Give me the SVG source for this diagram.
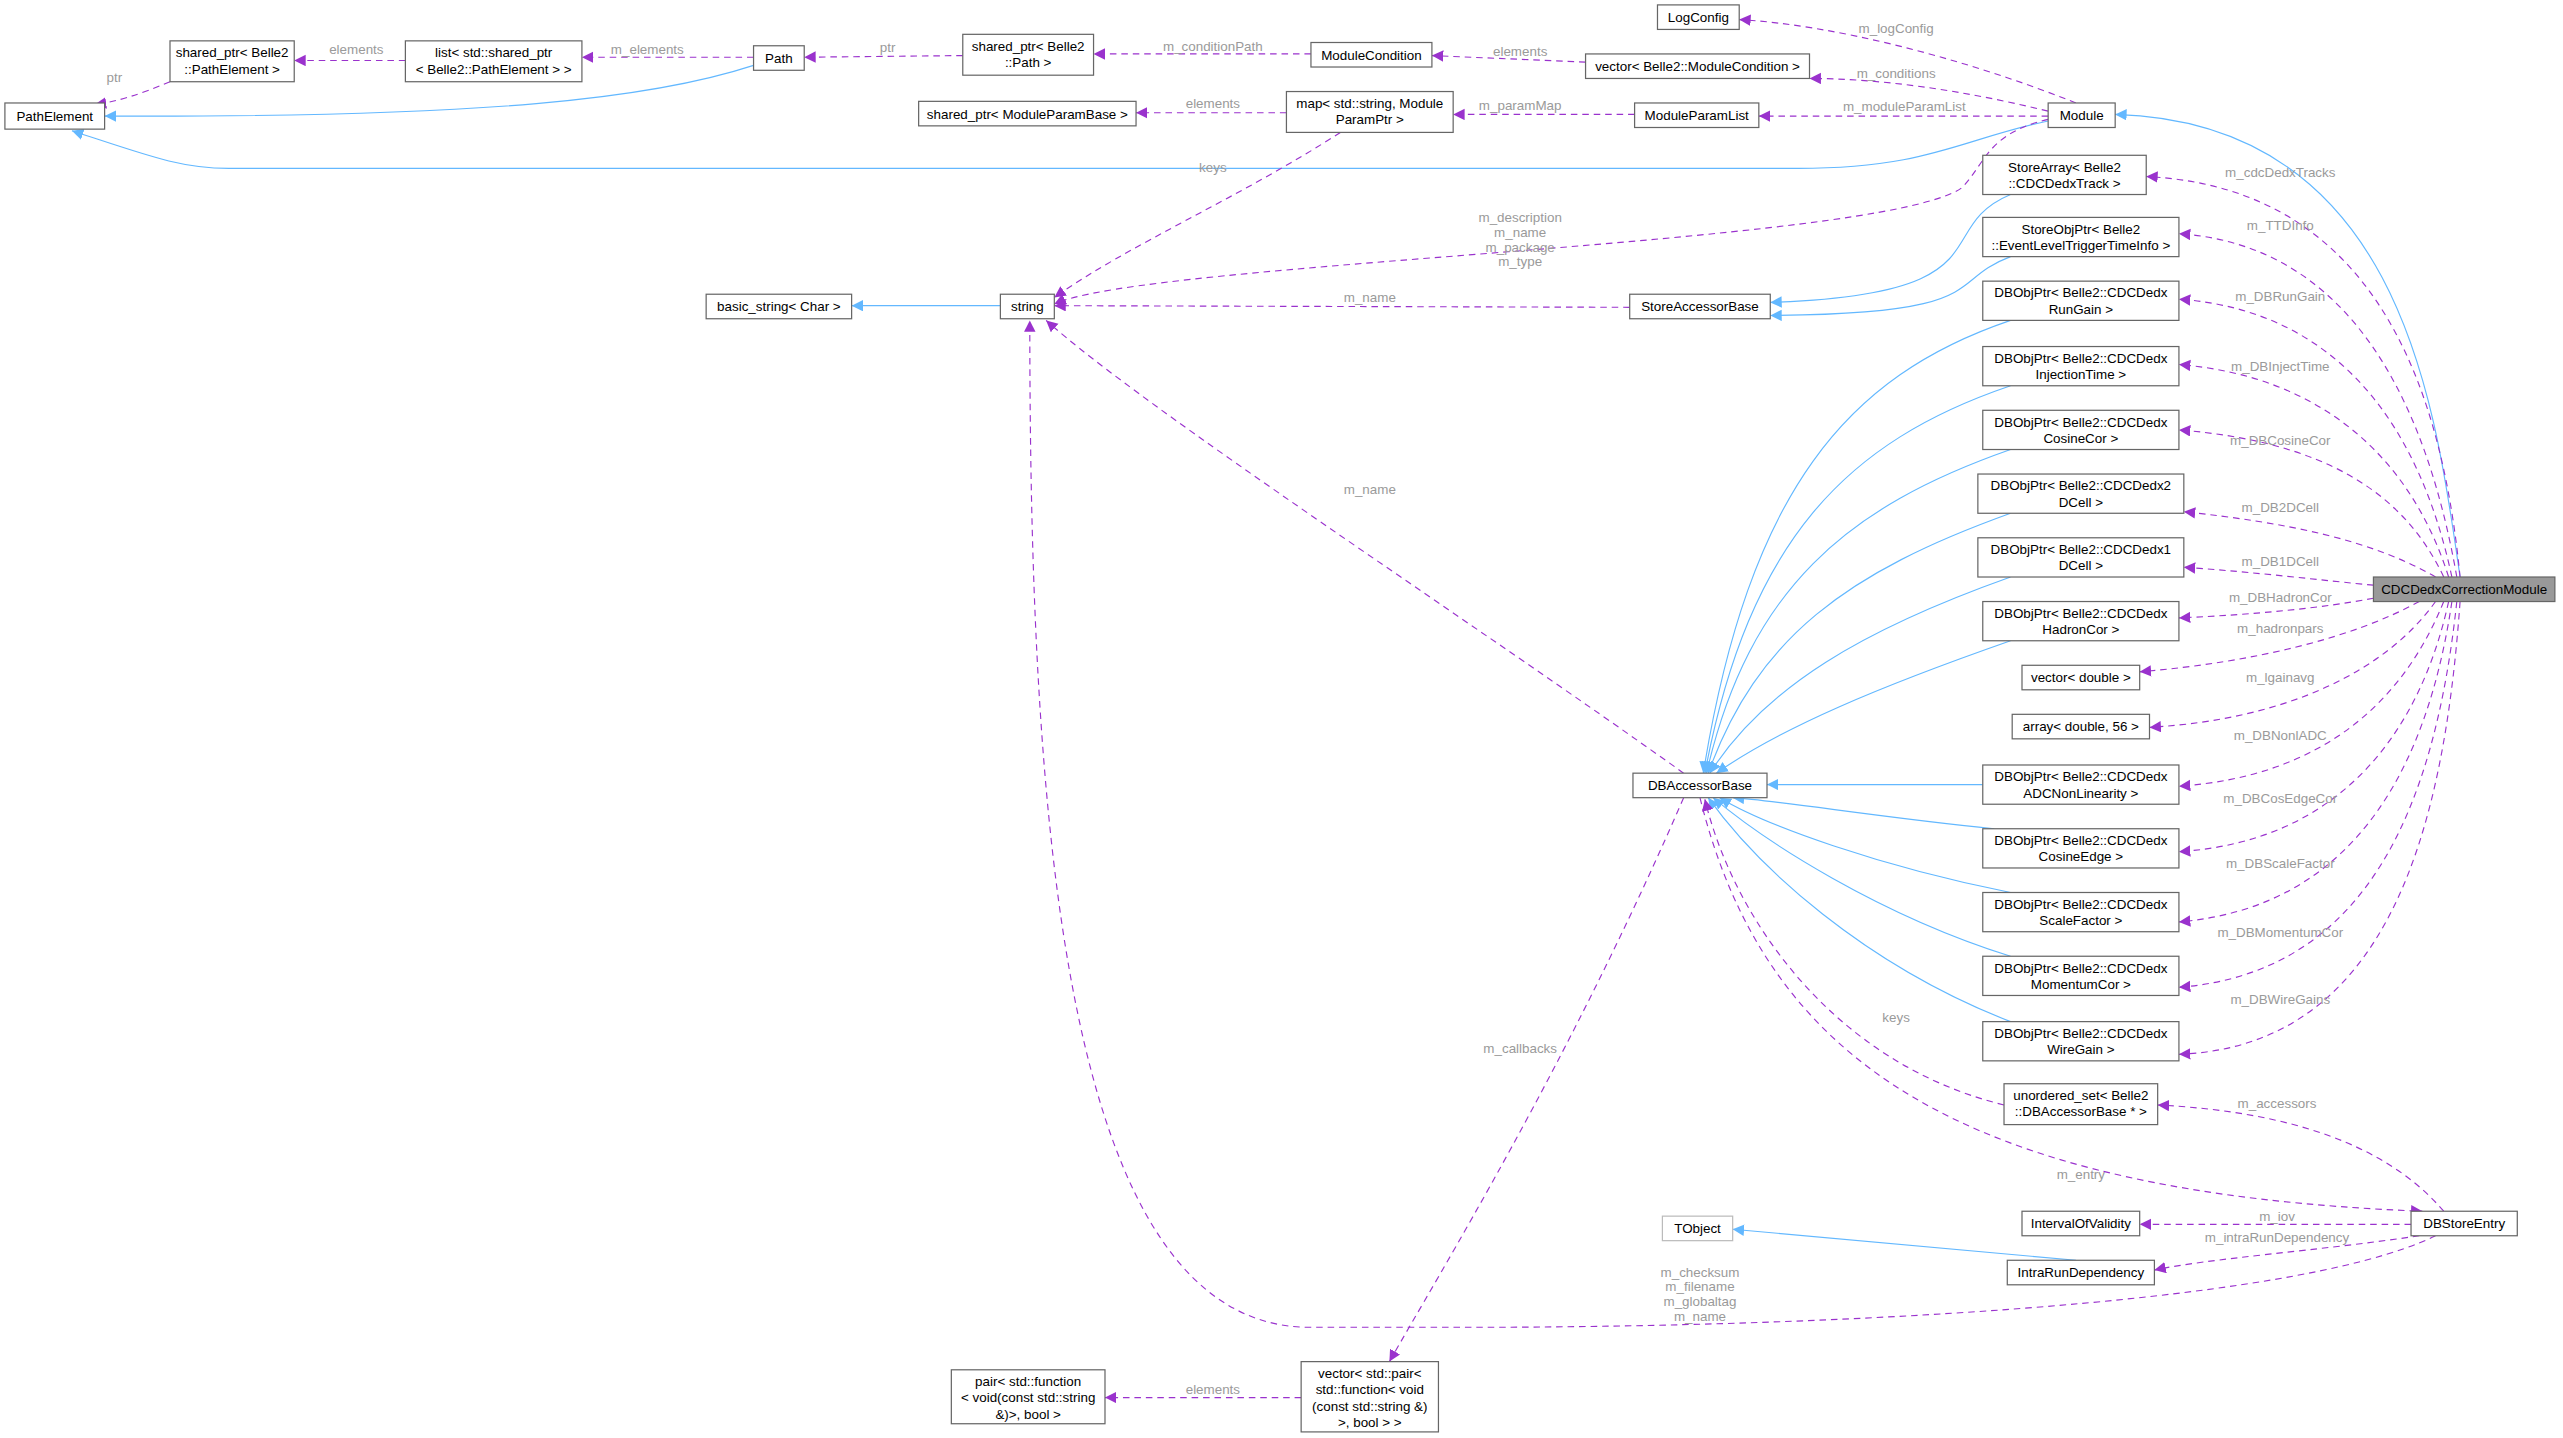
<svg xmlns="http://www.w3.org/2000/svg" width="2563" height="1438" viewBox="0 0 2563 1438">
<style>
.n rect{fill:#fff;stroke:#666;stroke-width:0.75}
.n text,.l{font-family:"Liberation Sans",Arial,sans-serif;font-size:8.2px;text-anchor:middle}
.n text{fill:#000}
.l{fill:#9a9a9a}
.u{fill:none;stroke:#9a32cd;stroke-width:0.7;stroke-dasharray:4,3;marker-end:url(#pa)}
.i{fill:none;stroke:#63b8ff;stroke-width:0.7;marker-end:url(#ba)}
</style>
<defs>
<marker id="pa" markerUnits="userSpaceOnUse" markerWidth="8" markerHeight="8" refX="7" refY="3.5" orient="auto"><path d="M0,0 L7,3.5 L0,7z" fill="#9a32cd"/></marker>
<marker id="ba" markerUnits="userSpaceOnUse" markerWidth="8" markerHeight="8" refX="7" refY="3.5" orient="auto"><path d="M0,0 L7,3.5 L0,7z" fill="#63b8ff"/></marker>
</defs>
<rect width="2563" height="1438" fill="#fff"/>
<g transform="scale(1.6346)">
<g id="edges">
<path class="i" d="M461,40 C400,60 300,72 64,71"/>
<path class="i" d="M1253,74 C1200,85 1180,103 1100,103 L140,103 C110,103 90,95 44,80"/>
<path class="i" d="M1505,353 C1490,250 1470,75 1294,70"/>
<path class="i" d="M1230,119 C1180,140 1230,180 1083,185"/>
<path class="i" d="M1230,157 C1190,172 1220,192 1083,193"/>
<path class="i" d="M612,187 L521,187"/>
<path class="i" d="M1230,196 C1130,230 1070,300 1042,473"/>
<path class="i" d="M1230,236 C1130,270 1070,330 1043,473"/>
<path class="i" d="M1230,275 C1130,310 1070,360 1044,473"/>
<path class="i" d="M1230,314 C1130,350 1075,390 1045,473"/>
<path class="i" d="M1230,353 C1140,385 1080,420 1046,473"/>
<path class="i" d="M1230,392 C1150,420 1090,445 1050,473"/>
<path class="i" d="M1213,480 L1081,480"/>
<path class="i" d="M1220,507 C1150,500 1090,490 1060,488"/>
<path class="i" d="M1230,546 C1150,530 1080,505 1052,488"/>
<path class="i" d="M1230,585 C1150,560 1080,515 1048,488"/>
<path class="i" d="M1230,625 C1140,590 1075,530 1045,488"/>
<path class="i" d="M1270,771 L1060,752"/>
<path class="u" d="M104,50 C85,58 72,62 58,64"/>
<path class="u" d="M248,37 L180,37"/>
<path class="u" d="M461,35 L356,35"/>
<path class="u" d="M589,34 L492,35"/>
<path class="u" d="M802,33 L669,33"/>
<path class="u" d="M970,38 L876,34"/>
<path class="u" d="M1253,68 C1200,55 1150,48 1107,48"/>
<path class="u" d="M1270,63 C1200,35 1120,15 1064,12"/>
<path class="u" d="M1253,71 L1076,71"/>
<path class="u" d="M1000,70 L889,70"/>
<path class="u" d="M787,69 L695,69"/>
<path class="u" d="M820,81 C760,120 690,150 645,182"/>
<path class="u" d="M1253,73 C1215,82 1215,100 1200,115 C1150,150 700,160 645,186"/>
<path class="u" d="M997,188 L645,187"/>
<path class="u" d="M1030,473 C900,380 700,250 640,196"/>
<path class="u" d="M1226,676 C1120,650 1060,560 1043,489"/>
<path class="u" d="M1495,741 C1460,700 1400,680 1320,676"/>
<path class="u" d="M1040,488 C1080,650 1200,730 1482,741"/>
<path class="u" d="M1475,749 L1309,749"/>
<path class="u" d="M1480,756 C1420,765 1350,770 1318,777"/>
<path class="u" d="M1490,756 C1400,800 1100,812 900,812 L800,812 C650,810 630,500 630,196"/>
<path class="u" d="M1030,488 C960,650 880,780 850,833"/>
<path class="u" d="M796,855 L676,855"/>
<path class="u" d="M1505,353 C1495,250 1460,115 1313,108"/>
<path class="u" d="M1503,353 C1485,250 1440,150 1333,143"/>
<path class="u" d="M1500,353 C1480,260 1430,190 1333,183"/>
<path class="u" d="M1498,353 C1475,280 1420,230 1333,223"/>
<path class="u" d="M1495,353 C1470,300 1420,270 1333,263"/>
<path class="u" d="M1490,353 C1450,330 1400,320 1336,313"/>
<path class="u" d="M1452,358 C1420,355 1380,350 1336,347"/>
<path class="u" d="M1452,366 C1420,372 1380,376 1333,378"/>
<path class="u" d="M1480,368 C1440,390 1380,405 1309,411"/>
<path class="u" d="M1490,368 C1460,410 1400,440 1315,445"/>
<path class="u" d="M1495,368 C1470,430 1420,475 1333,481"/>
<path class="u" d="M1498,368 C1480,450 1430,515 1333,521"/>
<path class="u" d="M1500,368 C1485,470 1440,555 1333,564"/>
<path class="u" d="M1503,368 C1490,490 1450,595 1333,604"/>
<path class="u" d="M1505,368 C1495,510 1460,640 1333,645"/>
<text class="l" x="70" y="50">ptr</text>
<text class="l" x="218" y="33">elements</text>
<text class="l" x="396" y="33">m_elements</text>
<text class="l" x="543" y="32">ptr</text>
<text class="l" x="742" y="31">m_conditionPath</text>
<text class="l" x="930" y="34">elements</text>
<text class="l" x="1160" y="48">m_conditions</text>
<text class="l" x="1160" y="20">m_logConfig</text>
<text class="l" x="1165" y="68">m_moduleParamList</text>
<text class="l" x="930" y="67">m_paramMap</text>
<text class="l" x="742" y="66">elements</text>
<text class="l" x="742" y="105">keys</text>
<text class="l" x="930" y="136">m_description</text>
<text class="l" x="930" y="145">m_name</text>
<text class="l" x="930" y="154">m_package</text>
<text class="l" x="930" y="163">m_type</text>
<text class="l" x="838" y="185">m_name</text>
<text class="l" x="838" y="302">m_name</text>
<text class="l" x="1160" y="625">keys</text>
<text class="l" x="1393" y="678">m_accessors</text>
<text class="l" x="1273" y="721">m_entry</text>
<text class="l" x="1393" y="747">m_iov</text>
<text class="l" x="1393" y="760">m_intraRunDependency</text>
<text class="l" x="1040" y="781">m_checksum</text>
<text class="l" x="1040" y="790">m_filename</text>
<text class="l" x="1040" y="799">m_globaltag</text>
<text class="l" x="1040" y="808">m_name</text>
<text class="l" x="930" y="644">m_callbacks</text>
<text class="l" x="742" y="853">elements</text>
<text class="l" x="1395" y="108">m_cdcDedxTracks</text>
<text class="l" x="1395" y="141">m_TTDInfo</text>
<text class="l" x="1395" y="184">m_DBRunGain</text>
<text class="l" x="1395" y="227">m_DBInjectTime</text>
<text class="l" x="1395" y="272">m_DBCosineCor</text>
<text class="l" x="1395" y="313">m_DB2DCell</text>
<text class="l" x="1395" y="346">m_DB1DCell</text>
<text class="l" x="1395" y="368">m_DBHadronCor</text>
<text class="l" x="1395" y="387">m_hadronpars</text>
<text class="l" x="1395" y="417">m_lgainavg</text>
<text class="l" x="1395" y="453">m_DBNonlADC</text>
<text class="l" x="1395" y="491">m_DBCosEdgeCor</text>
<text class="l" x="1395" y="531">m_DBScaleFactor</text>
<text class="l" x="1395" y="573">m_DBMomentumCor</text>
<text class="l" x="1395" y="614">m_DBWireGains</text>
</g>
<g id="LogConfig" class="n"><rect x="1014" y="3" width="50" height="15"/><text x="1039" y="13.5">LogConfig</text></g>
<g id="PathElement" class="n"><rect x="3" y="63" width="61" height="16"/><text x="33.5" y="74">PathElement</text></g>
<g id="SharedPtrPathElement" class="n"><rect x="104" y="25" width="76" height="25"/><text x="142" y="35">shared_ptr&lt; Belle2</text><text x="142" y="45">::PathElement &gt;</text></g>
<g id="ListSharedPtr" class="n"><rect x="248" y="25" width="108" height="25"/><text x="302" y="35">list&lt; std::shared_ptr</text><text x="302" y="45">&lt; Belle2::PathElement &gt; &gt;</text></g>
<g id="Path" class="n"><rect x="461" y="28" width="31" height="15"/><text x="476.5" y="38.5">Path</text></g>
<g id="SharedPtrPath" class="n"><rect x="589" y="21" width="80" height="25"/><text x="629" y="31">shared_ptr&lt; Belle2</text><text x="629" y="41">::Path &gt;</text></g>
<g id="ModuleCondition" class="n"><rect x="802" y="26" width="74" height="15"/><text x="839" y="36.5">ModuleCondition</text></g>
<g id="VectorModuleCondition" class="n"><rect x="970" y="33" width="137" height="15"/><text x="1038.5" y="43.5">vector&lt; Belle2::ModuleCondition &gt;</text></g>
<g id="Module" class="n"><rect x="1253" y="63" width="41" height="15"/><text x="1273.5" y="73.5">Module</text></g>
<g id="SharedPtrModuleParamBase" class="n"><rect x="562" y="62" width="133" height="15"/><text x="628.5" y="72.5">shared_ptr&lt; ModuleParamBase &gt;</text></g>
<g id="MapModuleParam" class="n"><rect x="787" y="56" width="102" height="25"/><text x="838" y="66">map&lt; std::string, Module</text><text x="838" y="76">ParamPtr &gt;</text></g>
<g id="ModuleParamList" class="n"><rect x="1000" y="63" width="76" height="15"/><text x="1038" y="73.5">ModuleParamList</text></g>
<g id="StoreArray" class="n"><rect x="1213" y="95" width="100" height="24"/><text x="1263" y="105">StoreArray&lt; Belle2</text><text x="1263" y="115">::CDCDedxTrack &gt;</text></g>
<g id="StoreObjPtr" class="n"><rect x="1213" y="133" width="120" height="24"/><text x="1273" y="143">StoreObjPtr&lt; Belle2</text><text x="1273" y="153">::EventLevelTriggerTimeInfo &gt;</text></g>
<g id="BasicString" class="n"><rect x="432" y="180" width="89" height="15"/><text x="476.5" y="190.5">basic_string&lt; Char &gt;</text></g>
<g id="String" class="n"><rect x="612" y="180" width="33" height="15"/><text x="628.5" y="190.5">string</text></g>
<g id="StoreAccessorBase" class="n"><rect x="997" y="180" width="86" height="15"/><text x="1040" y="190.5">StoreAccessorBase</text></g>
<g id="RunGain" class="n"><rect x="1213" y="172" width="120" height="24"/><text x="1273" y="182">DBObjPtr&lt; Belle2::CDCDedx</text><text x="1273" y="192">RunGain &gt;</text></g>
<g id="InjectionTime" class="n"><rect x="1213" y="212" width="120" height="24"/><text x="1273" y="222">DBObjPtr&lt; Belle2::CDCDedx</text><text x="1273" y="232">InjectionTime &gt;</text></g>
<g id="CosineCor" class="n"><rect x="1213" y="251" width="120" height="24"/><text x="1273" y="261">DBObjPtr&lt; Belle2::CDCDedx</text><text x="1273" y="271">CosineCor &gt;</text></g>
<g id="Cell2D" class="n"><rect x="1210" y="290" width="126" height="24"/><text x="1273" y="300">DBObjPtr&lt; Belle2::CDCDedx2</text><text x="1273" y="310">DCell &gt;</text></g>
<g id="Cell1D" class="n"><rect x="1210" y="329" width="126" height="24"/><text x="1273" y="339">DBObjPtr&lt; Belle2::CDCDedx1</text><text x="1273" y="349">DCell &gt;</text></g>
<g id="HadronCor" class="n"><rect x="1213" y="368" width="120" height="24"/><text x="1273" y="378">DBObjPtr&lt; Belle2::CDCDedx</text><text x="1273" y="388">HadronCor &gt;</text></g>
<g id="VectorDouble" class="n"><rect x="1237" y="407" width="72" height="15"/><text x="1273" y="417.5">vector&lt; double &gt;</text></g>
<g id="ArrayDouble" class="n"><rect x="1231" y="437" width="84" height="15"/><text x="1273" y="447.5">array&lt; double, 56 &gt;</text></g>
<g id="DBAccessorBase" class="n"><rect x="999" y="473" width="82" height="15"/><text x="1040" y="483.5">DBAccessorBase</text></g>
<g id="ADCNonLinearity" class="n"><rect x="1213" y="468" width="120" height="24"/><text x="1273" y="478">DBObjPtr&lt; Belle2::CDCDedx</text><text x="1273" y="488">ADCNonLinearity &gt;</text></g>
<g id="CosineEdge" class="n"><rect x="1213" y="507" width="120" height="24"/><text x="1273" y="517">DBObjPtr&lt; Belle2::CDCDedx</text><text x="1273" y="527">CosineEdge &gt;</text></g>
<g id="ScaleFactor" class="n"><rect x="1213" y="546" width="120" height="24"/><text x="1273" y="556">DBObjPtr&lt; Belle2::CDCDedx</text><text x="1273" y="566">ScaleFactor &gt;</text></g>
<g id="MomentumCor" class="n"><rect x="1213" y="585" width="120" height="24"/><text x="1273" y="595">DBObjPtr&lt; Belle2::CDCDedx</text><text x="1273" y="605">MomentumCor &gt;</text></g>
<g id="WireGain" class="n"><rect x="1213" y="625" width="120" height="24"/><text x="1273" y="635">DBObjPtr&lt; Belle2::CDCDedx</text><text x="1273" y="645">WireGain &gt;</text></g>
<g id="CDCDedxCorrectionModule" class="n"><rect x="1452" y="353" width="111" height="15" style="fill:#999"/><text x="1507.5" y="363.5">CDCDedxCorrectionModule</text></g>
<g id="UnorderedSet" class="n"><rect x="1226" y="663" width="94" height="25"/><text x="1273" y="673">unordered_set&lt; Belle2</text><text x="1273" y="683">::DBAccessorBase * &gt;</text></g>
<g id="DBStoreEntry" class="n"><rect x="1475" y="741" width="65" height="15"/><text x="1507.5" y="751.5">DBStoreEntry</text></g>
<g id="TObject" class="n"><rect x="1017" y="744" width="43" height="15" style="stroke:#bbb"/><text x="1038.5" y="754.5">TObject</text></g>
<g id="IntervalOfValidity" class="n"><rect x="1237" y="741" width="72" height="15"/><text x="1273" y="751.5">IntervalOfValidity</text></g>
<g id="IntraRunDependency" class="n"><rect x="1228" y="771" width="90" height="15"/><text x="1273" y="781.5">IntraRunDependency</text></g>
<g id="VectorPair" class="n"><rect x="796" y="833" width="84" height="43"/><text x="838" y="843">vector&lt; std::pair&lt;</text><text x="838" y="853">std::function&lt; void</text><text x="838" y="863">(const std::string &amp;)</text><text x="838" y="873">&gt;, bool &gt; &gt;</text></g>
<g id="PairFunction" class="n"><rect x="582" y="838" width="94" height="33"/><text x="629" y="848">pair&lt; std::function</text><text x="629" y="858">&lt; void(const std::string</text><text x="629" y="868">&amp;)&gt;, bool &gt;</text></g>
</g>
</svg>
